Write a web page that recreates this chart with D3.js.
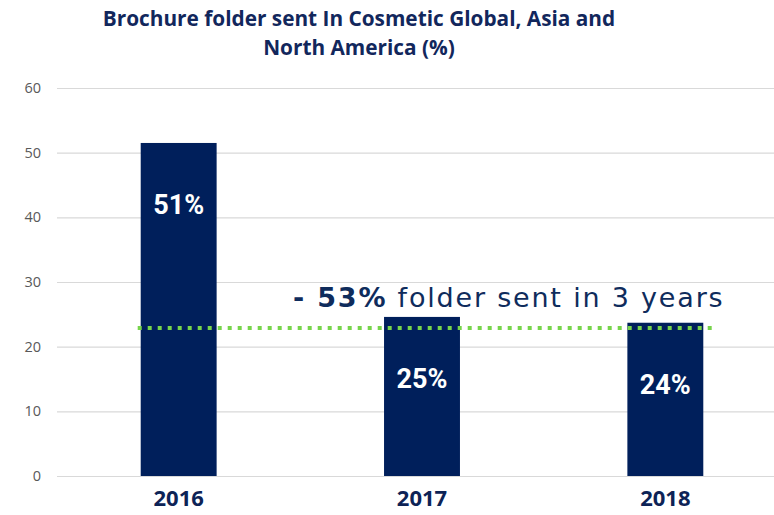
<!DOCTYPE html>
<html>
<head>
<meta charset="utf-8">
<script src="https://cdn.jsdelivr.net/npm/d3@7"></script>
<style>
  body { margin: 0; background: #fff; }
  svg { display: block; font-family: "Open Sans", sans-serif; }
</style>
</head>
<body>
<div id="chart"></div>
<script>
// data
var years = ["2016", "2017", "2018"];
var values = [51.5, 24.6, 23.7];
var barLabels = ["51%", "25%", "24%"];
var yTicks = [0, 10, 20, 30, 40, 50, 60];
var refValue = 22.9;
var titleLines = ["Brochure folder sent In Cosmetic Global, Asia and", "North America (%)"];

var width = 774, height = 515;
var navy = "#001f5b";

var svg = d3.select("#chart")
  .append("svg")
  .attr("width", width)
  .attr("height", height);

// scales
var x = d3.scaleBand()
  .domain(years)
  .range([57, 787])
  .paddingInner(0.688)
  .paddingOuter(0.344);

var y = d3.scaleLinear()
  .domain([0, 60])
  .range([476, 88]);

// gridlines
svg.append("g")
  .selectAll("line")
  .data(yTicks)
  .enter()
  .append("line")
  .attr("x1", 57)
  .attr("x2", width)
  .attr("y1", function(d) { return y(d) + 0.5; })
  .attr("y2", function(d) { return y(d) + 0.5; })
  .style("stroke", "#d9d9d9")
  .style("stroke-width", 1.2);

// y axis labels
svg.append("g")
  .attr("transform", "translate(41,0)")
  .style("font-family", "'Open Sans', sans-serif")
  .style("font-size", "14.5px")
  .call(d3.axisLeft(y).tickValues(yTicks).tickSize(0).tickPadding(0))
  .call(function(g) { g.select(".domain").remove(); })
  .selectAll("text")
  .style("fill", "#595959");

// bars
svg.append("g")
  .selectAll("rect")
  .data(values)
  .enter()
  .append("rect")
  .attr("x", function(d, i) { return x(years[i]); })
  .attr("y", function(d) { return y(d); })
  .attr("width", x.bandwidth())
  .attr("height", function(d) { return y(0) - y(d); })
  .style("fill", navy);

// bar labels
svg.append("g")
  .selectAll("text")
  .data(values)
  .enter()
  .append("text")
  .attr("x", function(d, i) { return x(years[i]) + x.bandwidth() / 2; })
  .attr("y", function(d) { return y(d) + 71; })
  .attr("text-anchor", "middle")
  .style("fill", "#fff")
  .style("font-family", "Roboto, sans-serif")
  .style("font-weight", "bold")
  .style("font-size", "27px")
  .text(function(d, i) { return barLabels[i]; });

// x axis labels
svg.append("g")
  .attr("transform", "translate(0,490)")
  .style("font-family", "'Open Sans', sans-serif")
  .style("font-size", "22px")
  .call(d3.axisBottom(x).tickSize(0).tickPadding(0))
  .call(function(g) { g.select(".domain").remove(); })
  .selectAll("text")
  .style("fill", "#0d2356")
  .style("font-weight", "bold");

// reference dotted line
svg.append("line")
  .attr("x1", x(years[0]) - 3)
  .attr("x2", x(years[2]) + x.bandwidth() + 11)
  .attr("y1", y(refValue))
  .attr("y2", y(refValue))
  .style("stroke", "#77d44b")
  .style("stroke-width", 4)
  .style("stroke-dasharray", "4,6");

// annotation
var note = svg.append("text")
  .attr("x", 293)
  .attr("y", 307)
  .style("fill", "#0f2c5c")
  .style("font-family", "'DejaVu Sans', sans-serif")
  .style("font-size", "27px")
  .style("letter-spacing", "1.8px");
note.append("tspan").style("font-weight", "bold").text("- 53%");
note.append("tspan").text(" folder sent in 3 years");

// title
svg.append("g")
  .selectAll("text")
  .data(titleLines)
  .enter()
  .append("text")
  .attr("x", 359)
  .attr("y", function(d, i) { return 26 + i * 29; })
  .attr("text-anchor", "middle")
  .style("fill", "#12275c")
  .style("font-weight", "bold")
  .style("font-size", "20.8px")
  .text(function(d) { return d; });
</script>
</body>
</html>
